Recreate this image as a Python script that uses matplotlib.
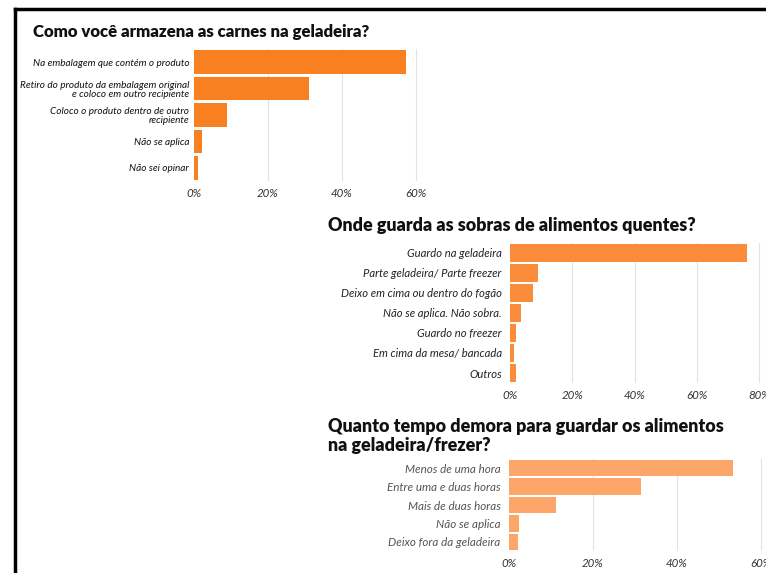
import numpy as np
import matplotlib
matplotlib.use("Agg")
import matplotlib.pyplot as plt
from matplotlib.lines import Line2D

W, H = 766, 573

# chart 1 - carnes
carnes_labels = ["Na embalagem que contém o produto",
                 "Retiro do produto da embalagem original\ne coloco em outro recipiente",
                 "Coloco o produto dentro de outro\nrecipiente",
                 "Não se aplica",
                 "Não sei opinar"]
carnes_vals = [57.3, 31.0, 8.9, 2.2, 1.1]

# chart 2 - sobras
sobras_labels = ["Guardo na geladeira", "Parte geladeira/ Parte freezer",
                 "Deixo em cima ou dentro do fogão", "Não se aplica. Não sobra.",
                 "Guardo no freezer", "Em cima da mesa/ bancada", "Outros"]
sobras_vals = [76.0, 9.0, 7.4, 3.6, 1.9, 1.3, 1.9]

# chart 3 - tempo
tempo_labels = ["Menos de uma hora", "Entre uma e duas horas", "Mais de duas horas",
                "Não se aplica", "Deixo fora da geladeira"]
tempo_vals = [53.3, 31.4, 11.2, 2.4, 2.1]

plt.rcParams['font.family'] = ['Lato', 'DejaVu Sans']

fig = plt.figure(figsize=(W / 100, H / 100), dpi=100)


def box(l, t, r, b):
    return [l / W, 1 - b / H, (r - l) / W, (b - t) / H]


def hbar(rect, labels, vals, xmax, ticks, color, lab_color, lab_size, pad):
    ax = fig.add_axes(rect)
    y = np.arange(len(vals))
    ax.barh(y, vals, height=0.9, color=color, zorder=3)
    ax.set_ylim(len(vals) - 0.5, -0.5)
    ax.set_xlim(0, xmax)
    ax.set_yticks(y)
    ax.set_yticklabels(labels, fontstyle='italic', fontsize=lab_size,
                       color=lab_color, linespacing=1.0)
    ax.set_xticks(ticks)
    ax.set_xticklabels(["%d%%" % t for t in ticks], fontstyle='italic',
                       fontsize=8.3, color='#333333')
    ax.tick_params(length=0, pad=5)
    ax.tick_params(axis='y', pad=pad)
    for t in ticks[1:]:
        ax.axvline(t, color='#e3e3e3', lw=0.8, zorder=1)
    for s in ax.spines.values():
        s.set_visible(False)
    return ax


hbar(box(194, 49, 194 + 64 * 3.7, 181), carnes_labels, carnes_vals, 64,
     [0, 20, 40, 60], '#f98021', '#111111', 7.2, 3.5)
fig.text(33 / W, 1 - 32 / H, "Como você armazena as carnes na geladeira?",
         fontsize=12.1, fontweight='heavy', va='center', color='#111111')

hbar(box(510, 243, 510 + 85 * 3.1125, 383), sobras_labels, sobras_vals, 85,
     [0, 20, 40, 60, 80], '#fb8c3c', '#222222', 8.1, 6)
fig.text(328 / W, 1 - 226 / H, "Onde guarda as sobras de alimentos quentes?",
         fontsize=12.9, fontweight='heavy', va='center', color='#111111')

hbar(box(509, 459, 509 + 62 * 4.2, 551), tempo_labels, tempo_vals, 62,
     [0, 20, 40, 60], '#fda66a', '#555555', 8.4, 6)
fig.text(328 / W, 1 - 436 / H, "Quanto tempo demora para guardar os alimentos\nna geladeira/frezer?",
         fontsize=12.9, fontweight='heavy', va='center', color='#111111',
         linespacing=1.1)

# black frame on left and top
fig.add_artist(Line2D([15 / W, 15 / W], [0, 1 - 9 / H], color='black', lw=2.5))
fig.add_artist(Line2D([15 / W, 1], [1 - 9 / H, 1 - 9 / H], color='black', lw=2.5))

fig.savefig("out.png", dpi=100)
